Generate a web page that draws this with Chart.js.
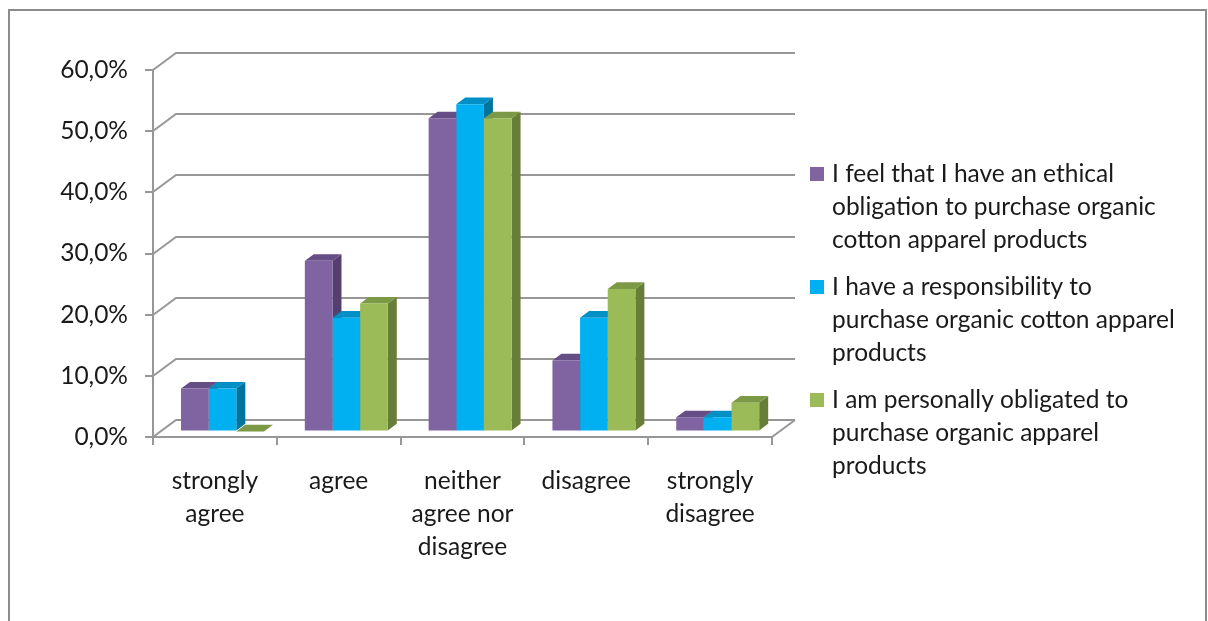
<!DOCTYPE html>
<html>
<head>
<meta charset="utf-8">
<script src="https://cdn.jsdelivr.net/npm/chart.js@4.4.1/dist/chart.umd.min.js"></script>
<style>
  html, body { margin: 0; padding: 0; background: #ffffff; overflow: hidden; }
  #wrap { width: 1208px; height: 621px; position: relative; }
</style>
</head>
<body>
<div id="wrap"><canvas id="chart" width="1208" height="621"></canvas></div>
<script>
// Survey answers, share of respondents per statement
const categories = [
  ['strongly', 'agree'],
  'agree',
  ['neither', 'agree nor', 'disagree'],
  'disagree',
  ['strongly', 'disagree']
];
const seriesNames = [
  ['I feel that I have an ethical', 'obligation to purchase organic', 'cotton apparel products'],
  ['I have a responsibility to', 'purchase organic cotton apparel', 'products'],
  ['I am personally obligated to', 'purchase organic apparel', 'products']
];
const ethicalObligation   = [7.0, 27.9, 51.2, 11.6, 2.3];
const responsibility      = [7.0, 18.6, 53.5, 18.6, 2.3];
const personallyObligated = [0.0, 20.9, 51.2, 23.3, 4.7];
const yTickLabels = ['0,0%', '10,0%', '20,0%', '30,0%', '40,0%', '50,0%', '60,0%'];

// face colours: front / top / side
const palette = [
  { front: '#8064A2', top: '#654d85', side: '#54406e' },
  { front: '#00B0F0', top: '#0090c6', side: '#00739e' },
  { front: '#9BBB59', top: '#7c9946', side: '#677e38' }
];

const GRID = '#979797';
const TEXT = '#1a1a1a';
const FONT = { family: 'Lato, "Open Sans", sans-serif', size: 24.5, lineHeight: '33px' };

// oblique projection of depth: full wall depth, bar plane offset, bar thickness
const WALL = { dx: 23, dy: 17 };
const PLANE = { dx: 7.6, dy: 5.6 };
const BAR = { dx: 9, dy: 6.6 };

const frame = {
  id: 'frame',
  beforeDraw(chart) {
    const ctx = chart.ctx;
    ctx.save();
    ctx.strokeStyle = '#8c8c8c';
    ctx.lineWidth = 2;
    ctx.strokeRect(9, 10, 1197, 700);
    ctx.restore();
  }
};

const depth3d = {
  id: 'depth3d',
  beforeDatasetsDraw(chart) {
    const ctx = chart.ctx;
    const x = chart.scales.x, y = chart.scales.y;
    // side wall and back wall gridlines
    ctx.save();
    ctx.strokeStyle = GRID;
    ctx.lineWidth = 2;
    ctx.lineJoin = 'miter';
    y.ticks.forEach(t => {
      const py = Math.round(y.getPixelForValue(t.value));
      ctx.beginPath();
      ctx.moveTo(x.left, py);
      ctx.lineTo(x.left + WALL.dx, py - WALL.dy);
      ctx.lineTo(x.right + WALL.dx, py - WALL.dy);
      ctx.stroke();
    });
    const y0 = Math.round(y.getPixelForValue(0));
    ctx.beginPath();
    ctx.moveTo(x.right + WALL.dx, y0 - WALL.dy);
    ctx.lineTo(x.right, y0);
    ctx.stroke();
    ctx.restore();

    // side and top faces of every column, left to right
    ctx.save();
    ctx.translate(PLANE.dx, -PLANE.dy);
    for (let i = 0; i < categories.length; i++) {
      chart.data.datasets.forEach((ds, d) => {
        const el = chart.getDatasetMeta(d).data[i];
        const p = el.getProps(['x', 'y', 'base', 'width'], true);
        const l = p.x - p.width / 2, r = p.x + p.width / 2;
        const top = Math.min(p.y, p.base), base = Math.max(p.y, p.base);
        ctx.fillStyle = palette[d].side;
        ctx.beginPath();
        ctx.moveTo(r, top);
        ctx.lineTo(r + BAR.dx, top - BAR.dy);
        ctx.lineTo(r + BAR.dx, base - BAR.dy);
        ctx.lineTo(r, base);
        ctx.closePath();
        ctx.fill();
        ctx.fillStyle = palette[d].top;
        ctx.beginPath();
        ctx.moveTo(l, top);
        ctx.lineTo(l + BAR.dx, top - BAR.dy);
        ctx.lineTo(r + BAR.dx, top - BAR.dy);
        ctx.lineTo(r, top);
        ctx.closePath();
        ctx.fill();
      });
    }
    ctx.restore();

    // front faces are drawn by the controller in the same bar plane
    ctx.save();
    ctx.translate(PLANE.dx, -PLANE.dy);
  },
  afterDatasetsDraw(chart) {
    chart.ctx.restore();
  }
};

const sideLegend = {
  id: 'sideLegend',
  afterDraw(chart) {
    const ctx = chart.ctx;
    const starts = [174, 287, 400];
    const lineH = 33;
    ctx.save();
    ctx.font = `${FONT.size}px ${FONT.family}`;
    ctx.textBaseline = 'middle';
    ctx.textAlign = 'left';
    chart.data.datasets.forEach((ds, d) => {
      const yy = starts[d];
      ctx.fillStyle = ds.backgroundColor;
      ctx.fillRect(810, yy - 7, 14, 14);
      ctx.fillStyle = TEXT;
      ds.label.forEach((line, k) => ctx.fillText(line, 832, yy + k * lineH));
    });
    ctx.restore();
  }
};

const datasets = [ethicalObligation, responsibility, personallyObligated].map((vals, d) => ({
  label: seriesNames[d],
  data: vals,
  backgroundColor: palette[d].front,
  borderWidth: 0
}));

new Chart(document.getElementById('chart'), {
  type: 'bar',
  data: { labels: categories, datasets },
  plugins: [frame, depth3d, sideLegend],
  options: {
    responsive: false,
    animation: false,
    devicePixelRatio: 1,
    layout: { padding: { left: 0, top: 70, right: 436, bottom: 0 } },
    plugins: { legend: { display: false }, tooltip: { enabled: false } },
    datasets: { bar: { categoryPercentage: 0.67, barPercentage: 1 } },
    scales: {
      x: {
        grid: { drawOnChartArea: false, drawTicks: true, tickLength: 8, color: GRID, lineWidth: 2 },
        border: { color: GRID, width: 2 },
        ticks: { font: FONT, color: TEXT, padding: 20, maxRotation: 0, autoSkip: false },
        afterFit(s) { s.height = 621 - 437; }
      },
      y: {
        min: 0, max: 60,
        grid: { drawOnChartArea: false, drawTicks: true, tickLength: 8, color: GRID, lineWidth: 2 },
        border: { color: GRID, width: 2 },
        ticks: {
          stepSize: 10, font: FONT, color: TEXT, padding: 17,
          callback: (v, i) => yTickLabels[i]
        },
        afterFit(s) { s.width = 153; }
      }
    }
  }
});
</script>
</body>
</html>
